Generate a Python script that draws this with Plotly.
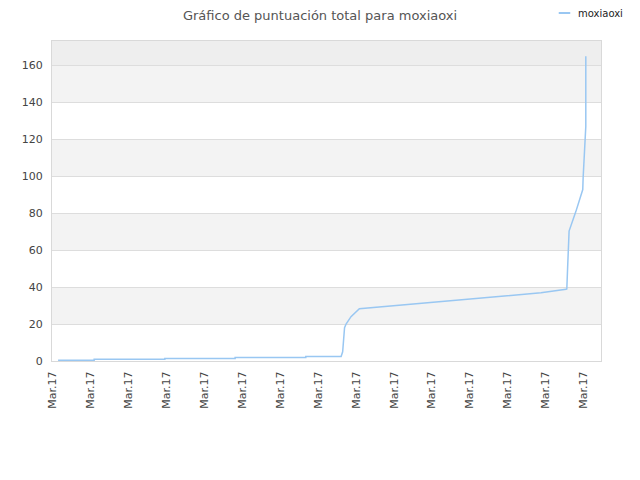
import plotly.graph_objects as go

# puntos (posicion en el eje x, puntuacion)
pos = [0.16, 1.11, 1.11, 2.97, 2.97, 4.82, 4.82, 6.68, 6.68, 7.61, 7.65, 7.68, 7.70, 7.74, 7.87, 8.09,
       9.18, 10.5, 11.82, 12.87, 13.53, 13.55, 13.57, 13.59, 13.61, 13.79, 13.97, 13.98, 14.01, 14.03, 14.05, 14.05]
score = [0.4, 0.4, 0.9, 0.9, 1.4, 1.4, 1.9, 1.9, 2.4, 2.4, 5, 12.6, 18, 20, 24, 28.3,
         30.3, 32.5, 34.8, 36.9, 38.8, 39, 49.8, 60, 70.3, 81, 92.8, 99.2, 110, 120.8, 127, 165]

tick_pos = list(range(15))
tick_text = ["Mar.17"] * 15
y_ticks = [0, 20, 40, 60, 80, 100, 120, 140, 160]
y_top = 173.2
line_color = '#99c7f2'

fig = go.Figure()

fig.add_trace(go.Scatter(
    x=pos, y=score, mode='lines', name='moxiaoxi',
    line=dict(color=line_color, width=1.5)
))

# bandas grises
for lo in [20, 60, 100, 140]:
    fig.add_shape(type='rect', xref='paper', yref='y', x0=0, x1=1, y0=lo, y1=lo + 20,
                  fillcolor='#f3f3f3', line_width=0, layer='below')
fig.add_shape(type='rect', xref='paper', yref='y', x0=0, x1=1, y0=160, y1=y_top,
              fillcolor='#eeeeee', line_width=0, layer='below')

# leyenda hecha a mano (la de plotly tiene la linea demasiado larga)
fig.add_shape(type='line', xref='paper', yref='paper', x0=0.923, x1=0.944, y0=1.0875, y1=1.0875,
              line=dict(color=line_color, width=2))
fig.add_annotation(text='moxiaoxi', xref='paper', yref='paper', x=0.955, y=1.0875,
                   xanchor='left', yanchor='middle', showarrow=False,
                   font=dict(size=10, color='#222'))

# la pagina tiene ~8px de margen en el body, se compensa aqui
fig.update_layout(
    width=640, height=480,
    margin=dict(l=44, r=47, t=33, b=127, autoexpand=False),
    paper_bgcolor='white', plot_bgcolor='white',
    font=dict(family='DejaVu Sans', size=11, color='#444'),
    title=dict(text='Gráfico de puntuación total para moxiaoxi', x=0.4875, xref='container',
               y=1 - 3 / 480, yanchor='top', font=dict(size=13, color='#555')),
    showlegend=False,
)

fig.update_xaxes(range=[0, 14.45], tickvals=tick_pos, ticktext=tick_text, tickangle=-90,
                 showgrid=False, zeroline=False, showline=True, linecolor='#d9d9d9', mirror=True,
                 ticks='', ticklabelstandoff=5, automargin=False, tickfont=dict(size=11, color='#444'))
fig.update_yaxes(range=[0, y_top], tickvals=y_ticks, showgrid=True, gridcolor='#dddddd',
                 zeroline=False, showline=True, linecolor='#d9d9d9', mirror=True,
                 ticks='', ticklabelstandoff=6, automargin=False, tickfont=dict(size=11, color='#444'))

fig.write_html("out.html")
